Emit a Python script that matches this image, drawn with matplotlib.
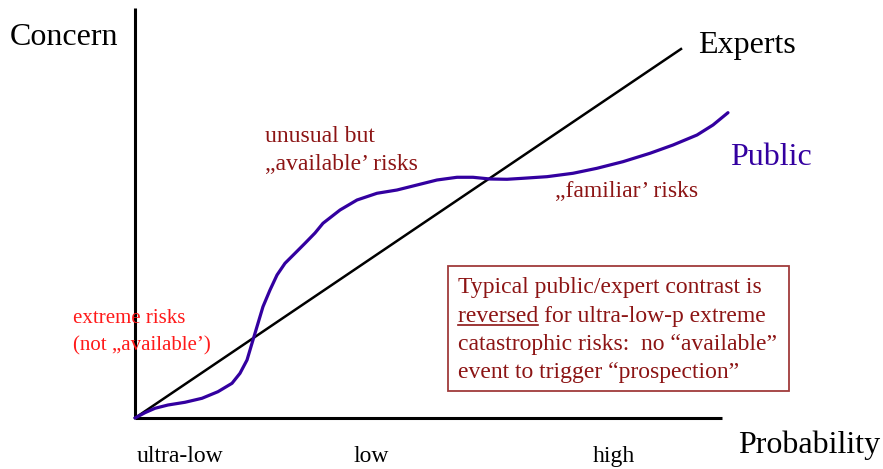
import matplotlib
matplotlib.use("Agg")
import matplotlib.pyplot as plt
from matplotlib.patches import Rectangle

# ---- data (probability 0..100, concern 0..100) ----
experts_x = [0, 91]
experts_y = [0, 92.25]

public_x = [0, 1.67, 3.33, 5.5, 8.33, 11.17, 13.83, 16.17, 17.5, 18.67, 19.5, 20.33,
            21.33, 22.5, 23.67, 25, 26.67, 28.33, 30, 31.33, 34.17, 37, 40.33, 43.67,
            47, 50.33, 53.67, 56.33, 59.17, 62, 64.67, 68.67, 73, 77, 81.33, 85.83,
            89.67, 93.67, 96.33, 98.83]
public_y = [0, 1.33, 2.43, 3.25, 3.93, 4.93, 6.58, 8.68, 11.18, 14.5, 18.68, 22.83,
            27.83, 32, 35.75, 38.68, 41.18, 43.68, 46.25, 48.68, 52, 54.5, 56.18, 57,
            58.25, 59.5, 60.18, 60.18, 59.75, 59.68, 59.93, 60.33, 61.18, 62.43, 64.08,
            66.18, 68.25, 70.75, 73.25, 76.33]

tick_labels = ["ultra-low", "low", "high"]
tick_pos = [7.5, 39.3, 79.8]

W, H = 883, 469
fig = plt.figure(figsize=(W / 100, H / 100), dpi=100)
ax = fig.add_axes([0, 0, 1, 1])
X0, Y0, SX, SY = 135, 418, 6.0, 4.0
ax.set_xlim(-X0 / SX, (W - X0) / SX)
ax.set_ylim(-(H - Y0) / SY, Y0 / SY)
ax.axis("off")

def P(px, py):
    return ((px - X0) / SX, (Y0 - py) / SY)

SERIF = "Liberation Serif"
DARKRED = "#8c1414"
BLUE = "#3300a0"

# axes
ax.plot([0, 0], [0, (Y0 - 8) / SY], color="black", lw=2.2, solid_capstyle="butt")
ax.plot([0, (722 - X0) / SX], [0, 0], color="black", lw=2.2, solid_capstyle="butt")

# lines
ax.plot(experts_x, experts_y, color="black", lw=1.8)
ax.plot(public_x, public_y, color=BLUE, lw=2.3, solid_joinstyle="round",
        solid_capstyle="round")

# axis titles
ax.text(*P(10, 45), "Concern", fontsize=23, family=SERIF, va="baseline", ha="left")
ax.text(*P(738, 453), "Probability", fontsize=23, family=SERIF, va="baseline", ha="left")
ax.text(*P(698, 53), "Experts", fontsize=23, family=SERIF, va="baseline", ha="left")
ax.text(*P(730, 165), "Public", fontsize=23, family=SERIF, va="baseline", ha="left", color=BLUE)

for lab, pos in zip(tick_labels, tick_pos):
    ax.text(pos, (Y0 - 462) / SY, lab, fontsize=17, family=SERIF, va="baseline", ha="center")

# annotations
ax.text(*P(265, 142), "unusual but", fontsize=17, family=SERIF, va="baseline", color=DARKRED)
ax.text(*P(265, 170), "\u201eavailable\u2019 risks", fontsize=17, family=SERIF, va="baseline", color=DARKRED)
ax.text(*P(555, 197), "\u201efamiliar\u2019 risks", fontsize=17, family=SERIF, va="baseline", color=DARKRED)
ax.text(*P(73, 323), "extreme risks", fontsize=15, family=SERIF, va="baseline", color="#ff1a1a")
ax.text(*P(73, 350), "(not \u201eavailable\u2019)", fontsize=15, family=SERIF, va="baseline", color="#ff1a1a")

# box
bx0, by0 = P(448, 391)
bx1, by1 = P(789, 266)
ax.add_patch(Rectangle((bx0, by0), bx1 - bx0, by1 - by0, fill=False,
                       edgecolor="#a03c3c", lw=1.3))
lines = ["Typical public/expert contrast is",
         "reversed for ultra-low-p extreme",
         "catastrophic risks:  no \u201cavailable\u201d",
         "event to trigger \u201cprospection\u201d"]
bases = [293, 322, 350, 378]
for t, b in zip(lines, bases):
    ax.text(*P(458, b), t, fontsize=17, family=SERIF, va="baseline", color=DARKRED)

# underline "reversed" (measure the word, then remove the probe)
probe = ax.text(*P(458, 322), "reversed", fontsize=17, family=SERIF, va="baseline")
fig.canvas.draw()
bb = probe.get_window_extent(renderer=fig.canvas.get_renderer())
probe.remove()
ux0 = (bb.x0 - X0) / SX
ux1 = (bb.x1 - X0) / SX
uy = (Y0 - 325) / SY
ax.plot([ux0, ux1], [uy, uy], color=DARKRED, lw=1.2)

fig.savefig("out.png", dpi=100)
